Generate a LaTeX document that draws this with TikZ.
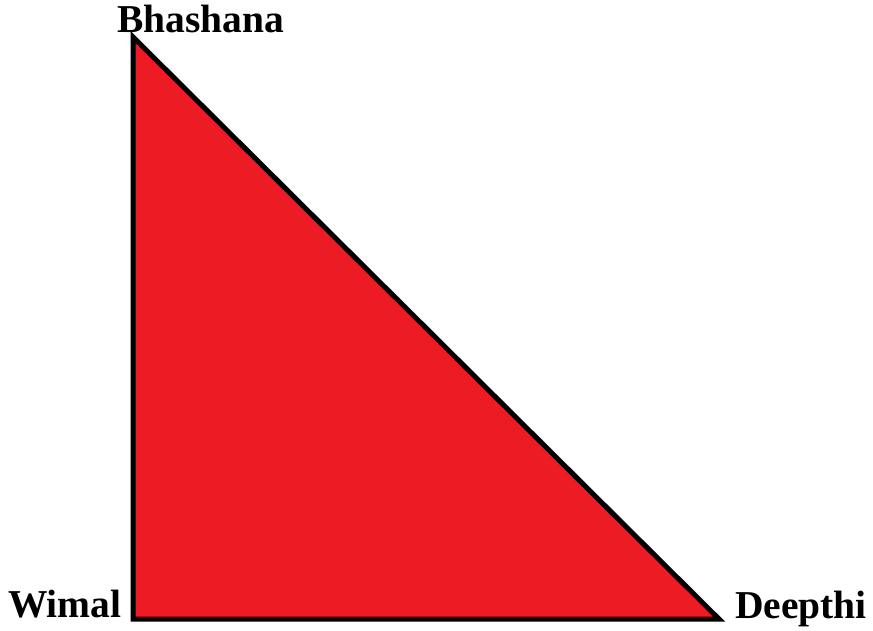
\documentclass[tikz,border=0pt]{standalone}
\usepackage{fontspec}
\setmainfont{Liberation Serif}
\usetikzlibrary{positioning}
\definecolor{paintred}{HTML}{ED1C24}

\begin{document}
\begin{tikzpicture}[x=1pt,y=-1pt,
  namelabel/.style={anchor=base west, inner sep=0pt, font=\fontsize{39.5}{42}\selectfont\bfseries}]
\useasboundingbox (0,0) rectangle (873,630);
\coordinate (top) at (133,37);
\coordinate (left) at (133,619);
\coordinate (right) at (719,619);
\filldraw [fill=paintred, draw=black, line width=5] (top) -- (left) -- (right) -- cycle;
\node [namelabel] (bhashana) at (117,32) {Bhashana};
\node [namelabel] (wimal) at (8,617) {Wimal};
\node [namelabel] (deepthi) at (735,618) {Deepthi};
\end{tikzpicture}
\end{document}
